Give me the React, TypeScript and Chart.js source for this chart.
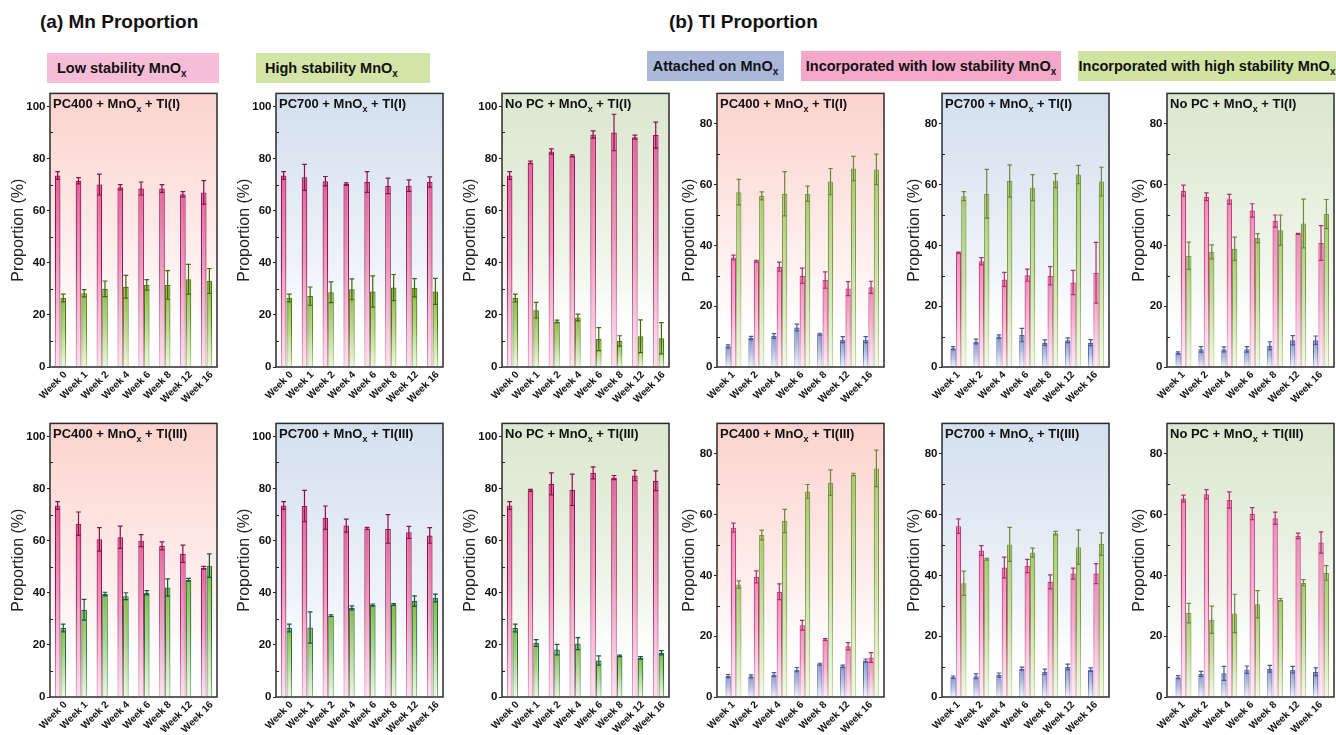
import React, { useEffect, useRef } from "react";
import { Chart, registerables } from "chart.js";

Chart.register(...registerables);

const FAM = '"Liberation Sans", Arial, Helvetica, sans-serif';

// ---------- categories & ticks ----------
const mnWeeks = ["Week 0", "Week 1", "Week 2", "Week 4", "Week 6", "Week 8", "Week 12", "Week 16"];
const tlWeeks = ["Week 1", "Week 2", "Week 4", "Week 6", "Week 8", "Week 12", "Week 16"];
const mnTicks = [0, 20, 40, 60, 80, 100];
const mnMinor = [10, 30, 50, 70, 90];
const tlTicks = [0, 20, 40, 60, 80];
const tlMinor = [10, 30, 50, 70];

// ---------- (a) Mn proportion ----------
// PC400 + MnOx + Tl(I)
const mnLowPC400I = [73.5, 71.5, 70.0, 69.0, 68.5, 68.5, 66.3, 67.0];
const mnLowPC400IErr = [1.5, 1.2, 4.0, 1.0, 2.5, 1.5, 1.0, 4.5];
const mnHighPC400I = [26.5, 28.3, 30.0, 30.8, 31.5, 31.5, 33.7, 33.0];
const mnHighPC400IErr = [1.5, 1.4, 3.0, 4.4, 2.0, 5.5, 5.7, 4.8];
// PC700 + MnOx + Tl(I)
const mnLowPC700I = [73.5, 72.8, 71.3, 70.2, 71.0, 69.5, 69.6, 71.0];
const mnLowPC700IErr = [1.5, 5.0, 1.8, 0.5, 4.0, 3.0, 2.2, 2.0];
const mnHighPC700I = [26.5, 27.2, 28.7, 29.8, 29.0, 30.5, 30.4, 29.0];
const mnHighPC700IErr = [1.5, 3.5, 4.0, 4.0, 6.0, 5.0, 3.5, 5.0];
// No PC + MnOx + Tl(I)
const mnLowNoPCI = [73.5, 78.5, 82.7, 81.0, 89.2, 90.0, 88.2, 89.0];
const mnLowNoPCIErr = [1.5, 0.5, 1.0, 0.4, 1.4, 7.0, 0.8, 5.0];
const mnHighNoPCI = [26.5, 21.8, 17.5, 19.0, 10.7, 10.0, 11.8, 11.0];
const mnHighNoPCIErr = [1.5, 3.0, 0.5, 1.3, 4.4, 2.0, 6.3, 6.0];
// PC400 + MnOx + Tl(III)
const mnLowPC400III = [73.5, 66.5, 60.5, 61.3, 60.0, 58.0, 55.0, 49.6];
const mnLowPC400IIIErr = [1.5, 4.5, 4.5, 4.3, 2.3, 1.5, 3.3, 0.5];
const mnHighPC400III = [26.5, 33.5, 39.5, 38.7, 40.0, 42.0, 45.0, 50.4];
const mnHighPC400IIIErr = [1.5, 4.0, 0.7, 1.3, 0.8, 3.3, 0.5, 4.5];
// PC700 + MnOx + Tl(III)
const mnLowPC700III = [73.5, 73.3, 68.8, 65.8, 64.7, 64.5, 63.2, 62.0];
const mnLowPC700IIIErr = [1.5, 6.0, 4.5, 2.5, 0.4, 5.5, 2.3, 3.0];
const mnHighPC700III = [26.5, 26.7, 31.2, 34.2, 35.3, 35.5, 36.8, 38.0];
const mnHighPC700IIIErr = [1.5, 6.0, 0.3, 0.8, 0.4, 0.3, 2.0, 1.5];
// No PC + MnOx + Tl(III)
const mnLowNoPCIII = [73.5, 79.3, 81.8, 79.5, 86.0, 84.2, 85.0, 83.0];
const mnLowNoPCIIIErr = [1.5, 0.4, 4.2, 6.0, 2.3, 0.8, 2.0, 3.8];
const mnHighNoPCIII = [26.5, 20.7, 18.2, 20.5, 14.0, 15.8, 15.0, 17.0];
const mnHighNoPCIIIErr = [1.5, 1.3, 2.0, 2.3, 1.8, 0.3, 0.5, 0.8];

// ---------- (b) Tl proportion ----------
// PC400 + MnOx + Tl(I)
const tlAttPC400I = [6.8, 9.5, 10.2, 13.0, 10.8, 9.0, 9.0];
const tlAttPC400IErr = [0.5, 0.6, 0.8, 1.1, 0.3, 1.0, 1.0];
const tlLowPC400I = [36.0, 34.8, 33.0, 30.0, 28.6, 25.8, 26.2];
const tlLowPC400IErr = [0.8, 0.3, 1.5, 2.5, 2.7, 2.3, 2.0];
const tlHighPC400I = [57.5, 56.3, 57.0, 57.0, 61.0, 65.3, 65.0];
const tlHighPC400IErr = [4.2, 1.3, 7.3, 2.5, 4.3, 4.0, 5.0];
// PC700 + MnOx + Tl(I)
const tlAttPC700I = [6.2, 8.4, 10.0, 10.5, 8.0, 8.8, 8.0];
const tlAttPC700IErr = [0.5, 0.8, 0.6, 2.2, 0.9, 0.8, 1.0];
const tlLowPC700I = [37.6, 34.8, 28.8, 30.2, 30.0, 27.8, 31.0];
const tlLowPC700IErr = [0.2, 1.2, 2.3, 2.0, 3.0, 4.0, 10.0];
const tlHighPC700I = [56.2, 57.0, 61.2, 59.0, 61.3, 63.3, 61.0];
const tlHighPC700IErr = [1.5, 8.0, 5.3, 4.3, 2.3, 3.0, 4.7];
// No PC + MnOx + Tl(I)
const tlAttNoPCI = [4.6, 5.8, 5.8, 5.8, 7.0, 8.8, 8.8];
const tlAttNoPCIErr = [0.4, 0.9, 0.8, 0.9, 1.3, 1.5, 1.4];
const tlLowNoPCI = [58.0, 56.0, 55.2, 51.5, 48.0, 43.8, 40.8];
const tlLowNoPCIErr = [1.8, 1.3, 1.6, 2.2, 2.0, 0.2, 5.7];
const tlHighNoPCI = [36.6, 37.9, 38.9, 42.4, 45.0, 47.2, 50.3];
const tlHighNoPCIErr = [4.5, 2.3, 3.8, 1.5, 5.0, 8.0, 4.8];
// PC400 + MnOx + Tl(III)
const tlAttPC400III = [6.9, 6.8, 7.4, 9.0, 10.8, 10.1, 12.0];
const tlAttPC400IIIErr = [0.5, 0.5, 0.6, 0.7, 0.3, 0.4, 0.5];
const tlLowPC400III = [55.7, 39.5, 34.6, 23.6, 18.9, 16.7, 13.0];
const tlLowPC400IIIErr = [1.5, 2.0, 2.6, 1.6, 0.3, 1.2, 1.6];
const tlHighPC400III = [37.0, 53.3, 57.9, 67.6, 70.5, 73.2, 75.2];
const tlHighPC400IIIErr = [1.2, 1.6, 3.8, 2.3, 4.2, 0.4, 6.0];
// PC700 + MnOx + Tl(III)
const tlAttPC700III = [6.5, 6.8, 7.2, 9.3, 8.3, 9.9, 9.0];
const tlAttPC700IIIErr = [0.4, 0.8, 0.7, 0.5, 0.9, 0.9, 0.6];
const tlLowPC700III = [56.2, 48.2, 42.6, 43.1, 37.9, 40.6, 40.6];
const tlLowPC700IIIErr = [2.4, 1.6, 3.4, 2.2, 2.3, 1.8, 3.3];
const tlHighPC700III = [37.4, 45.3, 50.2, 47.5, 53.9, 49.3, 50.3];
const tlHighPC700IIIErr = [4.0, 0.3, 5.6, 1.5, 0.6, 5.7, 3.7];
// No PC + MnOx + Tl(III)
const tlAttNoPCIII = [6.5, 7.6, 7.8, 9.0, 9.3, 9.0, 8.3];
const tlAttNoPCIIIErr = [0.5, 0.8, 2.3, 1.2, 1.1, 1.1, 1.3];
const tlLowNoPCIII = [65.3, 66.7, 64.8, 60.3, 58.8, 53.0, 50.8];
const tlLowNoPCIIIErr = [1.1, 1.5, 2.7, 2.0, 2.0, 0.9, 3.5];
const tlHighNoPCIII = [27.6, 25.4, 27.5, 30.5, 32.0, 37.6, 40.8];
const tlHighNoPCIIIErr = [3.2, 4.5, 6.3, 4.5, 0.4, 1.0, 2.4];

// ---------- styles ----------
type Pal = { fill: string; light: string; border: string; borderLight: string; err: string };
const mnPink: Pal = { fill: "#e5679f", light: "#fbe3ee", border: "#9b1453", borderLight: "#e59bbf", err: "#8e0f4b" };
const mnGreenA: Pal = { fill: "#8dbf45", light: "#eef6e0", border: "#4c7a10", borderLight: "#a9cf7f", err: "#3f6a0b" };
const mnGreenB: Pal = { fill: "#86c23f", light: "#eef7e1", border: "#1e6a4c", borderLight: "#7fb48e", err: "#155a3f" };
const tlBlue: Pal = { fill: "#8798cc", light: "#f3f5fb", border: "#5565a5", borderLight: "#b7c1e2", err: "#4a5a9a" };
const tlPink: Pal = { fill: "#f08cbb", light: "#fdeef5", border: "#c83c7e", borderLight: "#f2b4d2", err: "#b52d6e" };
const tlGreen: Pal = { fill: "#a7cd6f", light: "#f3f8ea", border: "#7f984a", borderLight: "#c8dea6", err: "#6f8540" };

const bgPC400 = ["#fcd3ce", "#fde1dd", "#fef1f0", "#ffffff"];
const bgPC700 = ["#d4e0ee", "#dfe8f3", "#eef3f9", "#ffffff"];
const bgNoPC = ["#dbe7d0", "#e4eddb", "#f1f6ec", "#ffffff"];

const AX = 62; // y-axis box width
const PT = 8;
const PR = 8;
const XH = 40;
const PW = 167;
const PH = 274;

type Series = { data: number[]; err: number[]; pal: Pal };
type PanelProps = {
  left: number;
  top: number;
  labels: string[];
  series: Series[];
  yMax: number;
  yTicks: number[];
  minor: number[];
  bg: string[];
  name: [string, string];
  catPct: number;
  yTitleOff: number;
  padL: number;
  padR: number;
  labelOffset: number;
};

const vGrad = (c1: string, c2: string, mid: number) => (ctx: any) => {
  const chart = ctx.chart;
  const area = chart.chartArea;
  if (!area || ctx.type !== "data") return c1;
  const ys = chart.scales.y;
  const yTop = ys.getPixelForValue(ctx.raw);
  const g = chart.ctx.createLinearGradient(0, yTop, 0, area.bottom + 0.01);
  g.addColorStop(0, c1);
  g.addColorStop(mid, c1);
  g.addColorStop(1, c2);
  return g;
};

function Panel(p: PanelProps) {
  const ref = useRef<HTMLCanvasElement>(null);
  useEffect(() => {
    const canvas = ref.current;
    if (!canvas) return;
    const deco = {
      id: "deco",
      afterLayout(chart: any) {
        const x = chart.scales.x;
        if (p.padL || p.padR) {
          x._startPixel = x.left + p.padL;
          x._endPixel = x.right - p.padR;
          x._length = x._endPixel - x._startPixel;
        }
      },
      beforeDraw(chart: any) {
        const { ctx, chartArea: a } = chart;
        const g = ctx.createLinearGradient(0, a.top, 0, a.bottom);
        g.addColorStop(0, p.bg[0]);
        g.addColorStop(0.3, p.bg[1]);
        g.addColorStop(0.62, p.bg[2]);
        g.addColorStop(0.86, p.bg[3]);
        g.addColorStop(1, p.bg[3]);
        ctx.save();
        ctx.fillStyle = g;
        ctx.fillRect(a.left, a.top, a.width, a.height);
        ctx.restore();
      },
      afterDatasetsDraw(chart: any) {
        const ctx = chart.ctx;
        const ys = chart.scales.y;
        chart.data.datasets.forEach((ds: any, i: number) => {
          const meta = chart.getDatasetMeta(i);
          meta.data.forEach((bar: any, j: number) => {
            const v = ds.data[j];
            const e = ds.errors[j];
            const { x, width } = bar.getProps(["x", "width"], true);
            const y1 = ys.getPixelForValue(v + e);
            const y2 = ys.getPixelForValue(v - e);
            const cw = width * 0.42;
            ctx.save();
            ctx.strokeStyle = ds.errColor;
            ctx.lineWidth = 1.2;
            ctx.beginPath();
            ctx.moveTo(x, y1);
            ctx.lineTo(x, y2);
            ctx.moveTo(x - cw, y1);
            ctx.lineTo(x + cw, y1);
            ctx.moveTo(x - cw, y2);
            ctx.lineTo(x + cw, y2);
            ctx.stroke();
            ctx.restore();
          });
        });
      },
      afterDraw(chart: any) {
        const { ctx, chartArea: a } = chart;
        const ys = chart.scales.y;
        ctx.save();
        ctx.strokeStyle = "#222";
        ctx.lineWidth = 1;
        ctx.beginPath();
        p.minor.forEach((v) => {
          const y = Math.round(ys.getPixelForValue(v)) + 0.5;
          ctx.moveTo(a.left, y);
          ctx.lineTo(a.left + 3, y);
        });
        ctx.stroke();
        ctx.strokeStyle = "#2b2b2b";
        ctx.lineWidth = 1.5;
        ctx.strokeRect(a.left, a.top, a.width, a.height);
        ctx.fillStyle = "#111";
        ctx.textAlign = "left";
        ctx.textBaseline = "alphabetic";
        let x = a.left + 3;
        const yb = a.top + 15;
        ctx.font = `bold 13px ${FAM}`;
        ctx.fillText(p.name[0], x, yb);
        x += ctx.measureText(p.name[0]).width;
        ctx.font = `bold 9px ${FAM}`;
        ctx.fillText("x", x, yb + 3.5);
        x += ctx.measureText("x").width;
        ctx.font = `bold 13px ${FAM}`;
        ctx.fillText(p.name[1], x, yb);
        ctx.translate(a.left - p.yTitleOff, (a.top + a.bottom) / 2);
        ctx.rotate(-Math.PI / 2);
        ctx.font = `16px ${FAM}`;
        ctx.textAlign = "center";
        ctx.textBaseline = "middle";
        ctx.fillStyle = "#222";
        ctx.fillText("Proportion (%)", 0, 0);
        ctx.restore();
      },
    };
    const chart = new Chart(canvas, {
      type: "bar",
      data: {
        labels: p.labels,
        datasets: p.series.map((s) => ({
          data: s.data,
          errors: s.err,
          errColor: s.pal.err,
          backgroundColor: vGrad(s.pal.fill, s.pal.light, 0.05),
          borderColor: vGrad(s.pal.border, s.pal.borderLight, 0.45),
          borderWidth: 1.2,
          borderSkipped: "bottom",
          categoryPercentage: p.catPct,
          barPercentage: 1,
        })) as any,
      },
      options: {
        responsive: false,
        maintainAspectRatio: false,
        animation: false,
        devicePixelRatio: 1,
        layout: { padding: { left: 0, top: PT, right: PR, bottom: 0 } },
        plugins: { legend: { display: false }, tooltip: { enabled: false }, title: { display: false } },
        scales: {
          x: {
            type: "category",
            offset: true,
            grid: { display: false, drawTicks: false },
            border: { display: false },
            ticks: {
              autoSkip: false,
              maxRotation: 45,
              minRotation: 45,
              padding: 2,
              labelOffset: p.labelOffset,
              color: "#111",
              font: { family: FAM, size: 10, weight: "bold" },
            },
            afterFit: (s: any) => {
              s.height = XH;
            },
          },
          y: {
            type: "linear",
            min: 0,
            max: p.yMax,
            afterBuildTicks: (s: any) => {
              s.ticks = p.yTicks.map((v) => ({ value: v }));
            },
            grid: { display: true, drawOnChartArea: false, drawTicks: true, tickLength: 3, color: "#222", lineWidth: 1 },
            border: { display: false },
            ticks: { padding: 1.5, color: "#111", font: { family: FAM, size: 11.5, weight: "bold" } },
            afterFit: (s: any) => {
              s.width = AX;
            },
          },
        },
      } as any,
      plugins: [deco],
    });
    return () => chart.destroy();
  }, []);
  const w = AX + PW + PR;
  const h = PT + PH + XH;
  return (
    <canvas
      ref={ref}
      width={w}
      height={h}
      style={{ position: "absolute", left: p.left - AX, top: p.top - PT, width: w, height: h }}
    />
  );
}

function Legend(props: { left: number; top: number; width: number; bg: string; text: string; center?: boolean; pad?: number }) {
  return (
    <div
      style={{
        position: "absolute",
        left: props.left,
        top: props.top,
        width: props.width,
        height: 30,
        background: props.bg,
        display: "flex",
        alignItems: "center",
        justifyContent: props.center ? "center" : "flex-start",
        paddingLeft: props.center ? 0 : props.pad || 0,
        boxSizing: "border-box",
        fontFamily: FAM,
        fontWeight: "bold",
        fontSize: 14.5,
        color: "#111",
        whiteSpace: "nowrap",
        overflow: "visible",
      }}
    >
      <span>
        {props.text}
        <span style={{ fontSize: 10, position: "relative", top: 4 }}>x</span>
      </span>
    </div>
  );
}

const mnLefts = [50, 276, 502];
const tlLefts = [717, 942, 1167];
const rowTops = [93, 423];

export default function App() {
  const mnPanels = [
    { bg: bgPC400, name: ["PC400 + MnO", " + Tl(I)"], low: mnLowPC400I, lowE: mnLowPC400IErr, high: mnHighPC400I, highE: mnHighPC400IErr, row: 0, col: 0 },
    { bg: bgPC700, name: ["PC700 + MnO", " + Tl(I)"], low: mnLowPC700I, lowE: mnLowPC700IErr, high: mnHighPC700I, highE: mnHighPC700IErr, row: 0, col: 1 },
    { bg: bgNoPC, name: ["No PC + MnO", " + Tl(I)"], low: mnLowNoPCI, lowE: mnLowNoPCIErr, high: mnHighNoPCI, highE: mnHighNoPCIErr, row: 0, col: 2 },
    { bg: bgPC400, name: ["PC400 + MnO", " + Tl(III)"], low: mnLowPC400III, lowE: mnLowPC400IIIErr, high: mnHighPC400III, highE: mnHighPC400IIIErr, row: 1, col: 0 },
    { bg: bgPC700, name: ["PC700 + MnO", " + Tl(III)"], low: mnLowPC700III, lowE: mnLowPC700IIIErr, high: mnHighPC700III, highE: mnHighPC700IIIErr, row: 1, col: 1 },
    { bg: bgNoPC, name: ["No PC + MnO", " + Tl(III)"], low: mnLowNoPCIII, lowE: mnLowNoPCIIIErr, high: mnHighNoPCIII, highE: mnHighNoPCIIIErr, row: 1, col: 2 },
  ];
  const tlPanels = [
    { bg: bgPC400, name: ["PC400 + MnO", " + Tl(I)"], att: tlAttPC400I, attE: tlAttPC400IErr, low: tlLowPC400I, lowE: tlLowPC400IErr, high: tlHighPC400I, highE: tlHighPC400IErr, row: 0, col: 0 },
    { bg: bgPC700, name: ["PC700 + MnO", " + Tl(I)"], att: tlAttPC700I, attE: tlAttPC700IErr, low: tlLowPC700I, lowE: tlLowPC700IErr, high: tlHighPC700I, highE: tlHighPC700IErr, row: 0, col: 1 },
    { bg: bgNoPC, name: ["No PC + MnO", " + Tl(I)"], att: tlAttNoPCI, attE: tlAttNoPCIErr, low: tlLowNoPCI, lowE: tlLowNoPCIErr, high: tlHighNoPCI, highE: tlHighNoPCIErr, row: 0, col: 2 },
    { bg: bgPC400, name: ["PC400 + MnO", " + Tl(III)"], att: tlAttPC400III, attE: tlAttPC400IIIErr, low: tlLowPC400III, lowE: tlLowPC400IIIErr, high: tlHighPC400III, highE: tlHighPC400IIIErr, row: 1, col: 0 },
    { bg: bgPC700, name: ["PC700 + MnO", " + Tl(III)"], att: tlAttPC700III, attE: tlAttPC700IIIErr, low: tlLowPC700III, lowE: tlLowPC700IIIErr, high: tlHighPC700III, highE: tlHighPC700IIIErr, row: 1, col: 1 },
    { bg: bgNoPC, name: ["No PC + MnO", " + Tl(III)"], att: tlAttNoPCIII, attE: tlAttNoPCIIIErr, low: tlLowNoPCIII, lowE: tlLowNoPCIIIErr, high: tlHighNoPCIII, highE: tlHighNoPCIIIErr, row: 1, col: 2 },
  ];
  return (
    <div
      style={{
        position: "fixed",
        left: 0,
        top: 0,
        width: 1336,
        height: 735,
        overflow: "hidden",
        background: "#ffffff",
        fontFamily: FAM,
      }}
    >
      <div style={{ position: "absolute", left: 40, top: 12, fontSize: 19, lineHeight: "19px", fontWeight: "bold", color: "#111", whiteSpace: "nowrap" }}>
        (a) Mn Proportion
      </div>
      <div style={{ position: "absolute", left: 669, top: 12, fontSize: 19, lineHeight: "19px", fontWeight: "bold", color: "#111", whiteSpace: "nowrap" }}>
        (b) Tl Proportion
      </div>
      <Legend left={47} top={53} width={172} bg="#f7bdd7" text="Low stability MnO" pad={10} />
      <Legend left={256} top={53} width={174} bg="#d2e4a6" text="High stability MnO" pad={9} />
      <Legend left={647} top={51} width={137} bg="#aab7da" text="Attached on MnO" center />
      <Legend left={801} top={51} width={260} bg="#f5a7ca" text="Incorporated with low stability MnO" center />
      <Legend left={1078} top={51} width={258} bg="#d0e3a1" text="Incorporated with high stability MnO" center />
      {mnPanels.map((m, i) => (
        <Panel
          key={"mn" + i}
          left={mnLefts[m.col]}
          top={rowTops[m.row]}
          labels={mnWeeks}
          series={[
            { data: m.low, err: m.lowE, pal: mnPink },
            { data: m.high, err: m.highE, pal: m.row === 0 ? mnGreenA : mnGreenB },
          ]}
          yMax={105}
          yTicks={mnTicks}
          minor={mnMinor}
          bg={m.bg}
          name={m.name as [string, string]}
          catPct={0.54}
          yTitleOff={31}
          padL={0}
          padR={0}
          labelOffset={5}
        />
      ))}
      {tlPanels.map((t, i) => (
        <Panel
          key={"tl" + i}
          left={tlLefts[t.col]}
          top={rowTops[t.row]}
          labels={tlWeeks}
          series={[
            { data: t.att, err: t.attE, pal: tlBlue },
            { data: t.low, err: t.lowE, pal: tlPink },
            { data: t.high, err: t.highE, pal: tlGreen },
          ]}
          yMax={90}
          yTicks={tlTicks}
          minor={tlMinor}
          bg={t.bg}
          name={t.name as [string, string]}
          catPct={0.7}
          yTitleOff={27}
          padL={5}
          padR={1.5}
          labelOffset={0}
        />
      ))}
    </div>
  );
}
